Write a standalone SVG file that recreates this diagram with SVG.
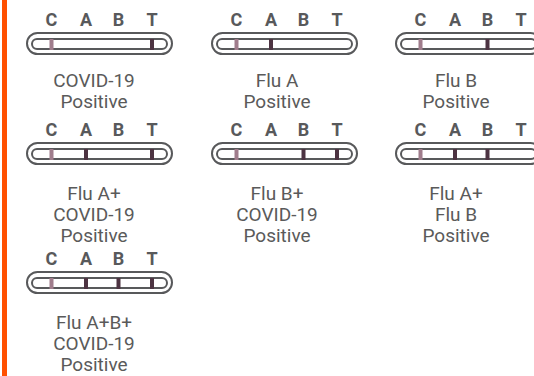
<svg xmlns="http://www.w3.org/2000/svg" xmlns:xlink="http://www.w3.org/1999/xlink" width="534" height="376" viewBox="0 0 534 376">
<style>
.lbl{font-family:Roboto,"Liberation Sans",sans-serif;font-weight:bold;font-size:18px;fill:#58595b;text-anchor:middle}
.cap{font-family:Roboto,"Liberation Sans",sans-serif;font-size:19px;fill:#5a5a5a;text-anchor:middle}
.outer,.inner{fill:#fff;stroke:#58595b;stroke-width:2}
.c{fill:#a07d8c}
.d{fill:#4d3442}
</style>
<defs>
<g id="strip">
<text class="lbl" x="25.5" y="-6">C</text>
<text class="lbl" x="60" y="-6">A</text>
<text class="lbl" x="92.5" y="-6">B</text>
<text class="lbl" x="126" y="-6">T</text>
<rect class="outer" x="1" y="1" width="145" height="21" rx="10.5"/>
<rect class="inner" x="6" y="7" width="135" height="10" rx="5"/>
<rect class="c" x="23.5" y="7" width="4" height="11"/>
</g>
</defs>
<rect x="2" y="0" width="5" height="376" fill="#ff5000"/>
<g id="covid" transform="translate(26,32)">
<use xlink:href="#strip"/>
<rect class="d" x="124" y="7" width="4" height="11"/>
<text class="cap" x="68" y="55">COVID-19</text>
<text class="cap" x="68" y="76">Positive</text>
</g>
<g id="fluA" transform="translate(211,32)">
<use xlink:href="#strip"/>
<rect class="d" x="58" y="7" width="4" height="11"/>
<text class="cap" x="66" y="55">Flu A</text>
<text class="cap" x="66" y="76">Positive</text>
</g>
<g id="fluB" transform="translate(395,32)">
<use xlink:href="#strip"/>
<rect class="d" x="90.5" y="7" width="4" height="11"/>
<text class="cap" x="61" y="55">Flu B</text>
<text class="cap" x="61" y="76">Positive</text>
</g>
<g id="fluAcovid" transform="translate(26,142)">
<use xlink:href="#strip"/>
<rect class="d" x="58" y="7" width="4" height="11"/>
<rect class="d" x="124" y="7" width="4" height="11"/>
<text class="cap" x="68" y="58">Flu A+</text>
<text class="cap" x="68" y="79">COVID-19</text>
<text class="cap" x="68" y="100">Positive</text>
</g>
<g id="fluBcovid" transform="translate(211,142)">
<use xlink:href="#strip"/>
<rect class="d" x="90.5" y="7" width="4" height="11"/>
<rect class="d" x="124" y="7" width="4" height="11"/>
<text class="cap" x="66" y="58">Flu B+</text>
<text class="cap" x="66" y="79">COVID-19</text>
<text class="cap" x="66" y="100">Positive</text>
</g>
<g id="fluAB" transform="translate(395,142)">
<use xlink:href="#strip"/>
<rect class="d" x="58" y="7" width="4" height="11"/>
<rect class="d" x="90.5" y="7" width="4" height="11"/>
<text class="cap" x="61" y="58">Flu A+</text>
<text class="cap" x="61" y="79">Flu B</text>
<text class="cap" x="61" y="100">Positive</text>
</g>
<g id="fluABcovid" transform="translate(26,271)">
<use xlink:href="#strip"/>
<rect class="d" x="58" y="7" width="4" height="11"/>
<rect class="d" x="90.5" y="7" width="4" height="11"/>
<rect class="d" x="124" y="7" width="4" height="11"/>
<text class="cap" x="68" y="58">Flu A+B+</text>
<text class="cap" x="68" y="79">COVID-19</text>
<text class="cap" x="68" y="100">Positive</text>
</g>
<g id="connectors"/>
</svg>
